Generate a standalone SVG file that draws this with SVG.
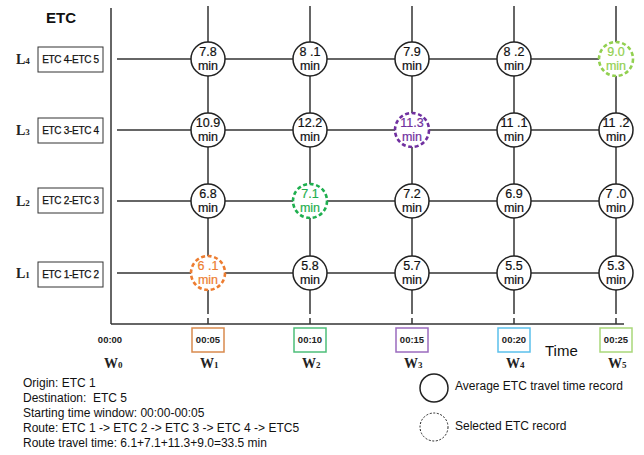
<svg xmlns="http://www.w3.org/2000/svg" width="644" height="455" viewBox="0 0 644 455">
<style>
.ln{stroke:#333;stroke-width:1.5;fill:none}
.nd{fill:#fff;stroke:#222;stroke-width:1.5}
.sel{fill:#fff;stroke-width:2.6;stroke-dasharray:4,2.6}
.v{font-family:"Liberation Sans",Arial,sans-serif;font-size:12.5px;text-anchor:middle;fill:#111;stroke:#111;stroke-width:0.2}
.rb{fill:#fff;stroke:#333;stroke-width:1}
.rt{font-family:"Liberation Sans",Arial,sans-serif;font-size:10px;text-anchor:middle;fill:#111;stroke:#111;stroke-width:0.25;letter-spacing:-0.3px}
.lb{font-family:"Liberation Serif","Times New Roman",serif;font-weight:bold;font-size:14px;fill:#222}
.sub{font-size:9px}
.tm{font-family:"Liberation Sans",Arial,sans-serif;font-weight:bold;font-size:9.5px;text-anchor:middle;fill:#222}
.tb{fill:#fff;stroke-width:1.5}
.tx{font-family:"Liberation Sans",Arial,sans-serif;font-size:12px;fill:#111;white-space:pre}
</style>
<rect width="644" height="455" fill="#fff"/>
<g id="connectors">
<line class="ln" x1="111" y1="8" x2="111" y2="324"/>
<line class="ln" x1="111" y1="324" x2="624" y2="324"/>
<line class="ln" x1="117" y1="59" x2="616" y2="59"/>
<line class="ln" x1="117" y1="130" x2="616" y2="130"/>
<line class="ln" x1="117" y1="201" x2="616" y2="201"/>
<line class="ln" x1="117" y1="273" x2="616" y2="273"/>
<line class="ln" x1="208" y1="6" x2="208" y2="314"/>
<line class="ln" x1="310" y1="6" x2="310" y2="314"/>
<line class="ln" x1="412" y1="6" x2="412" y2="314"/>
<line class="ln" x1="514" y1="6" x2="514" y2="314"/>
<line class="ln" x1="616" y1="6" x2="616" y2="314"/>
<line class="ln" x1="208" y1="318" x2="208" y2="324"/>
<line class="ln" x1="310" y1="318" x2="310" y2="324"/>
<line class="ln" x1="412" y1="318" x2="412" y2="324"/>
<line class="ln" x1="514" y1="318" x2="514" y2="324"/>
<line class="ln" x1="616" y1="318" x2="616" y2="324"/>
</g>
<text x="46" y="23" font-family="'Liberation Sans',Arial,sans-serif" font-weight="bold" font-size="15" fill="#111">ETC</text>
<g id="row-L4"><text class="lb" x="16" y="64">L<tspan class="sub">4</tspan></text><rect class="rb" x="38" y="47" width="65" height="25"/><text class="rt" x="70.5" y="63">ETC 4-ETC 5</text></g>
<g id="row-L3"><text class="lb" x="16" y="135">L<tspan class="sub">3</tspan></text><rect class="rb" x="38" y="118" width="65" height="25"/><text class="rt" x="70.5" y="134">ETC 3-ETC 4</text></g>
<g id="row-L2"><text class="lb" x="16" y="206">L<tspan class="sub">2</tspan></text><rect class="rb" x="38" y="188" width="65" height="25"/><text class="rt" x="70.5" y="204">ETC 2-ETC 3</text></g>
<g id="row-L1"><text class="lb" x="16" y="278">L<tspan class="sub">1</tspan></text><rect class="rb" x="38" y="262" width="65" height="25"/><text class="rt" x="70.5" y="278">ETC 1-ETC 2</text></g>

<g id="n-4-1"><circle class="nd" cx="208" cy="59" r="17"/><text class="v" x="208" y="56">7.8</text><text class="v" x="208" y="70">min</text></g>
<g id="n-4-2"><circle class="nd" cx="310" cy="59" r="17"/><text class="v" x="310" y="56">8 .1</text><text class="v" x="310" y="70">min</text></g>
<g id="n-4-3"><circle class="nd" cx="412" cy="59" r="17"/><text class="v" x="412" y="56">7.9</text><text class="v" x="412" y="70">min</text></g>
<g id="n-4-4"><circle class="nd" cx="514" cy="59" r="17"/><text class="v" x="514" y="56">8 .2</text><text class="v" x="514" y="70">min</text></g>
<g id="n-4-5"><circle class="sel" stroke="#92D050" cx="616" cy="59" r="17"/><text class="v" style="fill:#92D050;stroke:#92D050" x="616" y="56">9.0</text><text class="v" style="fill:#92D050;stroke:#92D050" x="616" y="70">min</text></g>

<g id="n-3-1"><circle class="nd" cx="208" cy="130" r="17"/><text class="v" x="208" y="127">10.9</text><text class="v" x="208" y="141">min</text></g>
<g id="n-3-2"><circle class="nd" cx="310" cy="130" r="17"/><text class="v" x="310" y="127">12.2</text><text class="v" x="310" y="141">min</text></g>
<g id="n-3-3"><circle class="sel" stroke="#7030A0" cx="412" cy="130" r="17"/><text class="v" style="fill:#7030A0;stroke:#7030A0" x="412" y="127">11.3</text><text class="v" style="fill:#7030A0;stroke:#7030A0" x="412" y="141">min</text></g>
<g id="n-3-4"><circle class="nd" cx="514" cy="130" r="17"/><text class="v" x="514" y="127">11 .1</text><text class="v" x="514" y="141">min</text></g>
<g id="n-3-5"><circle class="nd" cx="616" cy="130" r="17"/><text class="v" x="616" y="127">11 .2</text><text class="v" x="616" y="141">min</text></g>

<g id="n-2-1"><circle class="nd" cx="208" cy="201" r="17"/><text class="v" x="208" y="198">6.8</text><text class="v" x="208" y="212">min</text></g>
<g id="n-2-2"><circle class="sel" stroke="#1FAF4F" cx="310" cy="201" r="17"/><text class="v" style="fill:#1FAF4F;stroke:#1FAF4F" x="310" y="198">7.1</text><text class="v" style="fill:#1FAF4F;stroke:#1FAF4F" x="310" y="212">min</text></g>
<g id="n-2-3"><circle class="nd" cx="412" cy="201" r="17"/><text class="v" x="412" y="198">7.2</text><text class="v" x="412" y="212">min</text></g>
<g id="n-2-4"><circle class="nd" cx="514" cy="201" r="17"/><text class="v" x="514" y="198">6.9</text><text class="v" x="514" y="212">min</text></g>
<g id="n-2-5"><circle class="nd" cx="616" cy="201" r="17"/><text class="v" x="616" y="198">7 .0</text><text class="v" x="616" y="212">min</text></g>

<g id="n-1-1"><circle class="sel" stroke="#ED7D31" cx="208" cy="273" r="17"/><text class="v" style="fill:#ED7D31;stroke:#ED7D31" x="208" y="270">6 .1</text><text class="v" style="fill:#ED7D31;stroke:#ED7D31" x="208" y="284">min</text></g>
<g id="n-1-2"><circle class="nd" cx="310" cy="273" r="17"/><text class="v" x="310" y="270">5.8</text><text class="v" x="310" y="284">min</text></g>
<g id="n-1-3"><circle class="nd" cx="412" cy="273" r="17"/><text class="v" x="412" y="270">5.7</text><text class="v" x="412" y="284">min</text></g>
<g id="n-1-4"><circle class="nd" cx="514" cy="273" r="17"/><text class="v" x="514" y="270">5.5</text><text class="v" x="514" y="284">min</text></g>
<g id="n-1-5"><circle class="nd" cx="616" cy="273" r="17"/><text class="v" x="616" y="270">5.3</text><text class="v" x="616" y="284">min</text></g>

<g id="w0"><text class="tm" x="110" y="343">00:00</text><text class="lb" x="104" y="368">W<tspan class="sub">0</tspan></text></g>
<g id="w1"><rect class="tb" stroke="#D98A4E" x="192" y="328" width="32" height="24"/><text class="tm" x="208" y="343">00:05</text><text class="lb" x="200" y="368">W<tspan class="sub">1</tspan></text></g>
<g id="w2"><rect class="tb" stroke="#4DBE7A" x="294" y="328" width="32" height="24"/><text class="tm" x="310" y="343">00:10</text><text class="lb" x="302" y="368">W<tspan class="sub">2</tspan></text></g>
<g id="w3"><rect class="tb" stroke="#9B6BBE" x="396" y="328" width="32" height="24"/><text class="tm" x="412" y="343">00:15</text><text class="lb" x="404" y="368">W<tspan class="sub">3</tspan></text></g>
<g id="w4"><rect class="tb" stroke="#5BC0EB" x="498" y="328" width="32" height="24"/><text class="tm" x="514" y="343">00:20</text><text class="lb" x="506" y="368">W<tspan class="sub">4</tspan></text></g>
<g id="w5"><rect class="tb" stroke="#A9D77A" x="600" y="328" width="32" height="24"/><text class="tm" x="616" y="343">00:25</text><text class="lb" x="608" y="368">W<tspan class="sub">5</tspan></text></g>
<text x="545" y="356" font-family="'Liberation Sans',Arial,sans-serif" font-size="15" fill="#111">Time</text>

<g id="legend">
<circle cx="434" cy="388" r="14" fill="#fff" stroke="#222" stroke-width="1.5"/>
<text class="tx" x="455" y="390">Average ETC travel time record</text>
<circle cx="434" cy="427" r="14" fill="#fff" stroke="#222" stroke-width="1" stroke-dasharray="2,1.6"/>
<text class="tx" x="455" y="430">Selected ETC record</text>
</g>
<g id="notes">
<text class="tx" x="23" y="387">Origin: ETC 1</text>
<text class="tx" x="23" y="402">Destination:  ETC 5</text>
<text class="tx" x="23" y="417">Starting time window: 00:00-00:05</text>
<text class="tx" x="23" y="432">Route: ETC 1 -&gt; ETC 2 -&gt; ETC 3 -&gt; ETC 4 -&gt; ETC5</text>
<text class="tx" x="23" y="447">Route travel time: 6.1+7.1+11.3+9.0=33.5 min</text>
</g>
</svg>
